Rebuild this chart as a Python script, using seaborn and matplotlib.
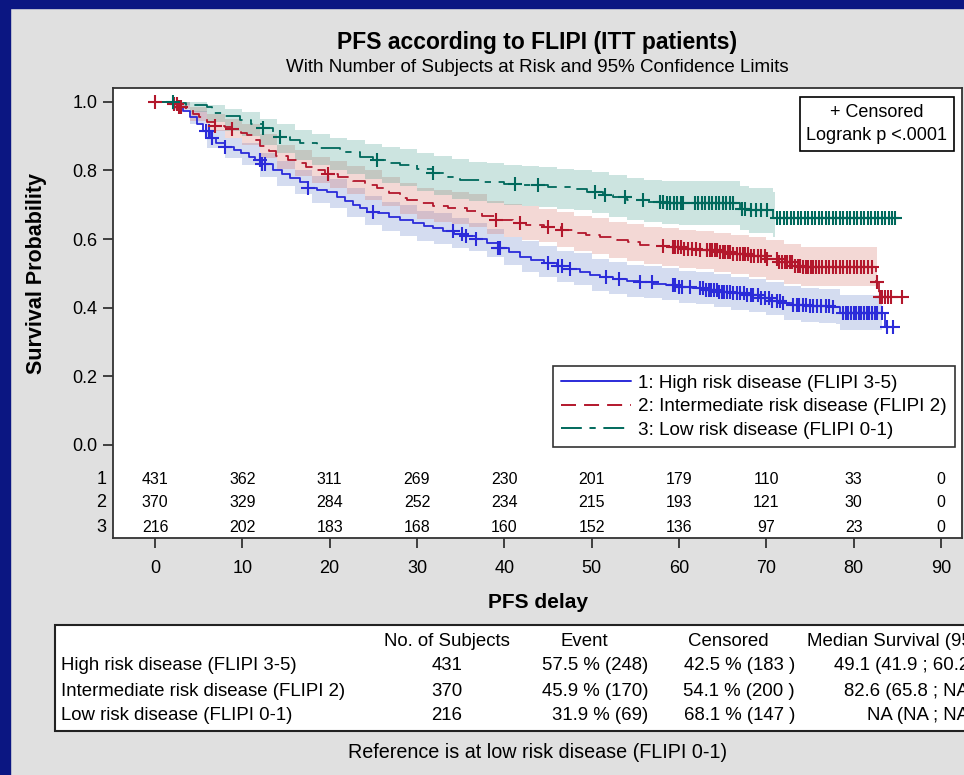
import numpy as np
import matplotlib
matplotlib.use("Agg")
import matplotlib.pyplot as plt
import matplotlib.transforms as mtransforms
from matplotlib.lines import Line2D
from matplotlib.patches import Rectangle
import seaborn as sns

# ---------------- data ----------------
group_labels = ["1: High risk disease (FLIPI 3-5)",
                "2: Intermediate risk disease (FLIPI 2)",
                "3: Low risk disease (FLIPI 0-1)"]

# Kaplan-Meier step curves (time, survival after the step)
high_t = [0, 1.5, 2.5, 3.2, 4.0, 4.8, 5.5, 6.3, 7.0, 8.0, 9.0, 9.8, 10.8, 11.5, 12.2, 13.5, 14.5,
          15.5, 16.6, 17.5, 18.5, 19.7, 20.8, 21.8, 22.7, 23.5, 24.3, 25.5, 26.8, 28.1, 29.5, 30.8,
          31.8, 33.0, 34.2, 35.5, 36.8, 38.0, 39.3, 40.5, 41.8, 43.0, 44.5, 46.0, 47.5, 48.7, 49.8,
          51.0, 52.5, 54.0, 55.5, 57.0, 58.5, 59.8, 61.5, 63.0, 64.4, 66.0, 67.5, 69.3, 70.5, 71.9,
          73.1, 75.0, 77.6, 78.4, 83.6, 84.5]
high_s = [1.0, 0.995, 0.985, 0.972, 0.955, 0.935, 0.915, 0.893, 0.880, 0.868, 0.860, 0.852, 0.840,
          0.830, 0.818, 0.801, 0.790, 0.778, 0.765, 0.748, 0.742, 0.736, 0.722, 0.710, 0.699, 0.690,
          0.680, 0.675, 0.665, 0.655, 0.648, 0.638, 0.631, 0.622, 0.615, 0.608, 0.600, 0.588, 0.575,
          0.562, 0.549, 0.540, 0.530, 0.520, 0.512, 0.503, 0.495, 0.490, 0.484, 0.478, 0.474, 0.470,
          0.465, 0.461, 0.457, 0.452, 0.447, 0.442, 0.436, 0.427, 0.420, 0.413, 0.408, 0.405, 0.403,
          0.384, 0.345, 0.345]

inter_t = [0, 2.0, 2.8, 3.5, 4.3, 5.0, 5.9, 6.9, 8.0, 8.8, 9.8, 10.5, 11.2, 12.0, 13.0, 13.9, 15.2,
           16.6, 17.3, 18.1, 19.5, 21.0, 22.7, 24.0, 25.4, 26.8, 28.0, 28.9, 30.3, 31.8, 33.5, 35.7,
           37.5, 39.1, 41.0, 42.5, 44.5, 46.5, 48.0, 49.4, 51.0, 52.9, 54.2, 55.5, 57.0, 58.6, 60.5,
           62.4, 64.5, 66.2, 68.0, 70.1, 71.5, 73.1, 74.0, 82.6, 82.9, 85.5]
inter_s = [1.0, 0.993, 0.985, 0.975, 0.965, 0.955, 0.942, 0.930, 0.925, 0.920, 0.910, 0.903, 0.888,
           0.872, 0.855, 0.842, 0.830, 0.821, 0.810, 0.801, 0.790, 0.780, 0.768, 0.758, 0.748, 0.735,
           0.720, 0.714, 0.704, 0.696, 0.690, 0.683, 0.668, 0.655, 0.648, 0.642, 0.636, 0.626, 0.618,
           0.612, 0.605, 0.597, 0.590, 0.583, 0.580, 0.576, 0.572, 0.568, 0.563, 0.556, 0.550, 0.542,
           0.532, 0.522, 0.519, 0.476, 0.432, 0.432]

low_t = [0, 2.5, 3.6, 5.9, 6.5, 8.0, 9.7, 11.0, 12.4, 13.5, 14.3, 15.5, 16.6, 18.5, 21.2, 23.5, 25.0,
         26.5, 28.1, 30.0, 31.8, 33.5, 34.9, 37.6, 40.0, 41.4, 45.0, 47.9, 49.5, 51.3, 52.5, 54.0,
         56.5, 58.6, 67.0, 67.8, 70.8, 84.7]
low_s = [1.0, 0.995, 0.990, 0.985, 0.966, 0.958, 0.947, 0.935, 0.922, 0.910, 0.898, 0.888, 0.879,
         0.864, 0.854, 0.840, 0.830, 0.822, 0.816, 0.803, 0.791, 0.780, 0.772, 0.765, 0.760, 0.757,
         0.752, 0.746, 0.738, 0.728, 0.722, 0.714, 0.709, 0.704, 0.688, 0.684, 0.660, 0.660]

# 95% confidence limits
high_band_t = [0, 2, 4, 6, 8, 10, 12, 14, 16, 18, 20, 22, 24, 26, 28, 30, 32, 34, 36, 38, 40, 42, 44,
               46, 48, 50, 52, 54, 56, 58, 60, 62, 64, 66, 68, 70, 72, 74, 76, 78, 78.4, 83.2]
high_lo = [1.0, 0.975, 0.935, 0.865, 0.835, 0.815, 0.780, 0.755, 0.730, 0.705, 0.690, 0.665, 0.640,
           0.622, 0.610, 0.595, 0.585, 0.575, 0.565, 0.548, 0.525, 0.505, 0.490, 0.475, 0.465, 0.450,
           0.440, 0.432, 0.427, 0.422, 0.414, 0.410, 0.403, 0.394, 0.387, 0.378, 0.364, 0.358, 0.355,
           0.352, 0.335, 0.335]
high_hi = [1.0, 0.998, 0.972, 0.917, 0.895, 0.880, 0.850, 0.826, 0.800, 0.785, 0.774, 0.750, 0.725,
           0.708, 0.698, 0.683, 0.675, 0.662, 0.648, 0.630, 0.605, 0.593, 0.580, 0.566, 0.558, 0.542,
           0.533, 0.525, 0.520, 0.516, 0.508, 0.504, 0.499, 0.490, 0.484, 0.476, 0.462, 0.458, 0.455,
           0.453, 0.437, 0.437]

inter_band_t = [0, 2, 4, 6, 8, 10, 12, 14, 16, 18, 20, 22, 24, 26, 28, 30, 32, 34, 36, 38, 40, 42,
                44, 46, 48, 50, 52, 54, 56, 58, 60, 62, 64, 66, 68, 70, 72, 74, 82.7]
inter_lo = [1.0, 0.980, 0.945, 0.915, 0.895, 0.875, 0.835, 0.805, 0.785, 0.762, 0.748, 0.730, 0.715,
            0.695, 0.672, 0.658, 0.650, 0.645, 0.635, 0.615, 0.605, 0.597, 0.590, 0.578, 0.566, 0.556,
            0.545, 0.535, 0.527, 0.522, 0.516, 0.512, 0.505, 0.498, 0.490, 0.480, 0.468, 0.462, 0.462]
inter_hi = [1.0, 1.0, 0.985, 0.965, 0.950, 0.935, 0.905, 0.875, 0.860, 0.840, 0.828, 0.812, 0.800,
            0.782, 0.763, 0.750, 0.742, 0.738, 0.730, 0.712, 0.702, 0.695, 0.688, 0.678, 0.668, 0.660,
            0.651, 0.643, 0.636, 0.632, 0.627, 0.623, 0.618, 0.612, 0.606, 0.598, 0.586, 0.578, 0.578]

low_band_t = [0, 2, 4, 6, 8, 10, 12, 14, 16, 18, 20, 22, 24, 26, 28, 30, 32, 34, 36, 38, 40, 42, 44,
              46, 48, 50, 52, 54, 56, 58, 60, 67, 68, 70.8, 71.0]
low_lo = [1.0, 0.990, 0.970, 0.940, 0.915, 0.900, 0.875, 0.850, 0.830, 0.815, 0.800, 0.790, 0.775,
          0.762, 0.755, 0.740, 0.728, 0.718, 0.710, 0.705, 0.700, 0.697, 0.693, 0.688, 0.685, 0.675,
          0.665, 0.655, 0.650, 0.645, 0.642, 0.625, 0.617, 0.605, 0.605]
low_hi = [1.0, 1.0, 1.0, 0.990, 0.980, 0.970, 0.950, 0.935, 0.918, 0.905, 0.895, 0.888, 0.878, 0.868,
          0.862, 0.850, 0.842, 0.832, 0.825, 0.820, 0.816, 0.813, 0.810, 0.805, 0.802, 0.795, 0.787,
          0.778, 0.773, 0.770, 0.768, 0.753, 0.750, 0.738, 0.738]

# censoring times
high_cens = [5.8, 6.2, 6.5, 8.0, 12.0, 12.3, 12.6, 17.5, 25.0, 34.1, 35.2, 35.6, 36.8, 39.3, 39.5,
             45.0, 46.2, 46.6, 47.5, 51.7, 53.1, 55.5, 56.9, 59.3, 59.6, 60.0, 60.3, 61.3, 62.4,
             62.8, 63.1, 63.4, 63.7, 64.0, 64.3, 64.6, 64.9, 65.2, 65.5, 65.8, 66.2, 66.6, 67.0,
             67.4, 67.8, 68.2, 68.5, 69.0, 69.4, 69.8, 70.3, 70.7, 71.2, 71.6, 71.9, 73.1, 73.5,
             73.8, 74.2, 74.6, 75.0, 75.4, 75.8, 76.3, 76.8, 77.2, 77.6, 78.8, 79.1, 79.4, 79.7,
             80.0, 80.3, 80.6, 80.9, 81.2, 81.5, 81.8, 82.1, 82.4, 82.7, 83.2, 83.8, 84.5]
inter_cens = [0.0, 2.2, 2.5, 2.8, 3.0, 6.9, 8.8, 19.8, 39.1, 41.8, 45.0, 46.6, 58.2, 59.3, 59.6,
              59.9, 60.2, 60.6, 61.0, 61.5, 62.0, 62.4, 63.2, 63.5, 63.8, 64.1, 64.4, 64.7, 65.0,
              65.3, 65.6, 65.9, 66.2, 66.6, 67.0, 67.3, 67.6, 67.9, 68.2, 68.6, 69.0, 69.4, 69.8,
              70.1, 71.2, 71.5, 71.8, 72.1, 72.4, 72.7, 73.0, 73.3, 73.6, 73.9, 74.2, 74.5, 74.8,
              75.1, 75.4, 75.7, 76.0, 76.4, 76.8, 77.2, 77.6, 78.0, 78.4, 78.8, 79.2, 79.6, 80.0,
              80.4, 80.8, 81.2, 81.6, 82.1, 82.7, 83.0, 83.3, 83.6, 83.9, 84.3, 85.5]
low_cens = [2.1, 12.4, 14.3, 25.4, 31.8, 41.2, 43.9, 50.4, 51.5, 53.8, 55.9, 57.8, 58.2, 58.6, 59.0,
            59.4, 59.8, 60.2, 60.5, 61.8, 62.2, 62.6, 63.0, 63.4, 63.8, 64.2, 64.6, 65.0, 65.4,
            65.8, 66.2, 67.2, 67.6, 68.2, 68.8, 69.4, 70.1, 71.2, 71.6, 72.0, 72.4, 72.8, 73.2,
            73.6, 74.0, 74.4, 74.8, 75.2, 75.6, 76.0, 76.4, 76.8, 77.2, 77.6, 78.0, 78.4, 78.8,
            79.2, 79.6, 80.0, 80.4, 80.8, 81.2, 81.6, 82.0, 82.4, 82.8, 83.2, 83.6, 84.0, 84.4, 84.7]

# number at risk
risk_times = [0, 10, 20, 30, 40, 50, 60, 70, 80, 90]
risk_high = [431, 362, 311, 269, 230, 201, 179, 110, 33, 0]
risk_inter = [370, 329, 284, 252, 234, 215, 193, 121, 30, 0]
risk_low = [216, 202, 183, 168, 160, 152, 136, 97, 23, 0]

# summary table
table_rows = ["High risk disease (FLIPI 3-5)", "Intermediate risk disease (FLIPI 2)",
              "Low risk disease (FLIPI 0-1)"]
table_n = ["431", "370", "216"]
table_event = ["57.5 % (248)", "45.9 % (170)", "31.9 % (69)"]
table_cens = ["42.5 % (183 )", "54.1 % (200 )", "68.1 % (147 )"]
table_median = ["49.1 (41.9 ; 60.2)", "82.6 (65.8 ; NA)", "NA (NA ; NA)"]

# ---------------- styling ----------------
sns.set_style("white")
plt.rcParams["font.family"] = ["Liberation Sans", "DejaVu Sans"]
plt.rcParams["lines.scale_dashes"] = False
for k in ["text.color", "axes.labelcolor", "xtick.color", "ytick.color"]:
    plt.rcParams[k] = "black"

W, H = 964, 775
BG = "#e0e0e0"
NAVY = "#0b1682"
line_cols = ["#2b2bd9", "#b3172c", "#00695c"]
band_cols = ["#5a78c8", "#d46a60", "#3a9a8a"]
styles = ["-", (0, (10.8, 5.8)), (0, (15, 5.5, 4.5, 5.5))]
TFS = 13.4

def fx(px):
    return px / W

def fy(py):
    return 1 - py / H

fig = plt.figure(figsize=(W / 100, H / 100), dpi=100, facecolor=BG)
fig.patches.append(Rectangle((0, fy(8)), 1, 8 / H, transform=fig.transFigure,
                             color=NAVY, zorder=0))
fig.patches.append(Rectangle((0, 0), fx(10), 1, transform=fig.transFigure,
                             color=NAVY, zorder=0))

ax = fig.add_axes([fx(113), fy(538), fx(962) - fx(113), fy(88) - fy(538)])
ax.set_facecolor("white")

curves = [(high_t, high_s), (inter_t, inter_s), (low_t, low_s)]
bands = [(high_band_t, high_lo, high_hi), (inter_band_t, inter_lo, inter_hi),
         (low_band_t, low_lo, low_hi)]
cens = [high_cens, inter_cens, low_cens]

for i in range(3):
    bt, lo, hi = bands[i]
    ax.fill_between(bt, lo, hi, step="post", color=band_cols[i], alpha=0.26, lw=0, zorder=1)

for i in range(3):
    t, s = curves[i]
    sns.lineplot(x=t, y=s, ax=ax, drawstyle="steps-post", color=line_cols[i],
                 linestyle=styles[i], linewidth=1.3, estimator=None, errorbar=None,
                 legend=False, zorder=3)
    t_arr = np.asarray(t)
    s_arr = np.asarray(s)
    idx = np.searchsorted(t_arr, np.asarray(cens[i]), side="right") - 1
    sns.scatterplot(x=cens[i], y=s_arr[idx], ax=ax, marker="+", s=110, color=line_cols[i],
                    linewidth=1.5, legend=False, zorder=4)

ax.set_xlim(-4.81, 92.41)
ax.set_ylim(-0.2709, 1.0399)
ax.set_xticks(risk_times)
ax.set_yticks([0.0, 0.2, 0.4, 0.6, 0.8, 1.0])
ax.set_yticklabels(["0.0", "0.2", "0.4", "0.6", "0.8", "1.0"])
ax.tick_params(axis="both", direction="out", length=7, width=1.3, color="#333333",
               labelsize=13, pad=4, left=True, bottom=True)
ax.tick_params(axis="x", pad=9)
for sp in ax.spines.values():
    sp.set_visible(True)
    sp.set_color("#333333")
    sp.set_linewidth(1.3)
ax.set_xlabel("")
ax.set_ylabel("")

# number at risk rows
risk_rows = [risk_high, risk_inter, risk_low]
risk_y = [-0.0999, -0.168, -0.2397]
blend = mtransforms.blended_transform_factory(ax.transAxes, ax.transData)
for r in range(3):
    for tt, v in zip(risk_times, risk_rows[r]):
        ax.text(tt, risk_y[r], str(v), ha="center", va="center", fontsize=11.5,
                color="black")
    ax.text(-0.008, risk_y[r], str(r + 1), transform=blend, ha="right", va="center",
            fontsize=13)

# legend
handles = [Line2D([0], [0], color=line_cols[i], linestyle=styles[i], lw=1.4) for i in range(3)]
leg = ax.legend(handles, group_labels, loc="upper right",
                bbox_to_anchor=(fx(955), fy(366)), bbox_transform=fig.transFigure,
                borderaxespad=0, fontsize=13.6, handlelength=3.7, handletextpad=0.35,
                labelspacing=0.33, borderpad=0.45, frameon=True, fancybox=False)
leg.get_frame().set_edgecolor("black")
leg.get_frame().set_linewidth(1.2)

# censored / logrank box
fig.text(fx(877), fy(124), "+ Censored\nLogrank p <.0001", ha="center", va="center",
         fontsize=13, linespacing=1.5,
         bbox=dict(boxstyle="square,pad=0.35", fc="white", ec="black", lw=1.2))

# titles and labels
fig.text(fx(537.5), fy(42), "PFS according to FLIPI (ITT patients)", ha="center",
         va="center", fontsize=16.5, fontweight="bold")
fig.text(fx(537.5), fy(68), "With Number of Subjects at Risk and 95% Confidence Limits",
         ha="center", va="center", fontsize=13.5)
fig.text(fx(37), fy(273), "Survival Probability", rotation=90, ha="center", va="center",
         fontsize=15.5, fontweight="bold")
fig.text(fx(537.5), fy(603), "PFS delay", ha="center", va="center", fontsize=15,
         fontweight="bold")

# summary table
fig.patches.append(Rectangle((fx(55), fy(731)), fx(1000) - fx(55), fy(625) - fy(731),
                             transform=fig.transFigure, fc="white", ec="#222222", lw=1.5,
                             zorder=1))
fig.text(fx(447), fy(641), "No. of Subjects", ha="center", va="center", fontsize=TFS)
fig.text(fx(584), fy(641), "Event", ha="center", va="center", fontsize=TFS)
fig.text(fx(728), fy(641), "Censored", ha="center", va="center", fontsize=TFS)
fig.text(fx(913), fy(641), "Median Survival (95% CI)", ha="center", va="center", fontsize=TFS)
row_y = [666, 691, 716]
for r in range(3):
    fig.text(fx(61), fy(row_y[r]), table_rows[r], ha="left", va="center", fontsize=TFS)
    fig.text(fx(447), fy(row_y[r]), table_n[r], ha="center", va="center", fontsize=TFS)
    fig.text(fx(648), fy(row_y[r]), table_event[r], ha="right", va="center", fontsize=TFS)
    fig.text(fx(795), fy(row_y[r]), table_cens[r], ha="right", va="center", fontsize=TFS)
    fig.text(fx(975), fy(row_y[r]), table_median[r], ha="right", va="center", fontsize=TFS)
fig.text(fx(537.5), fy(753), "Reference is at low risk disease (FLIPI 0-1)", ha="center",
         va="center", fontsize=14.2)

fig.savefig("out.png", dpi=100, facecolor=BG)
